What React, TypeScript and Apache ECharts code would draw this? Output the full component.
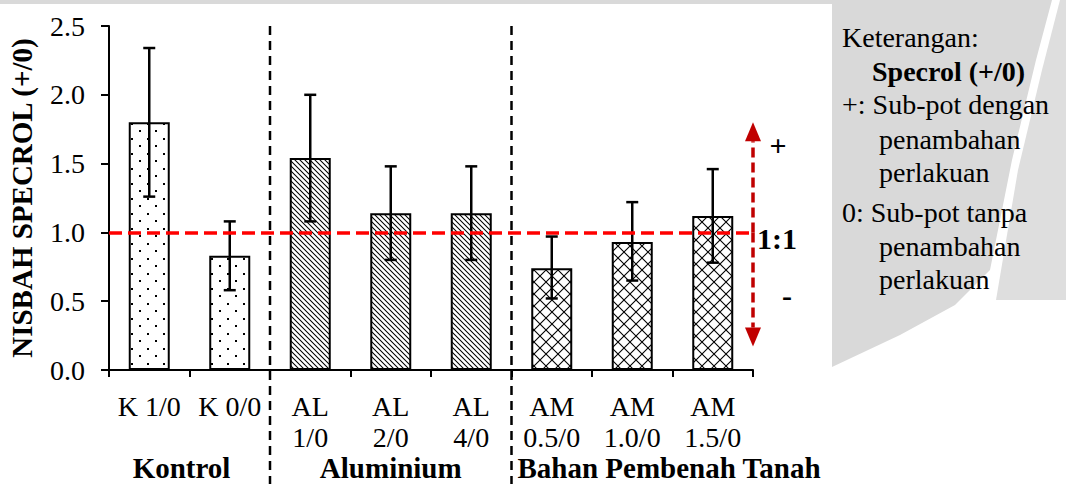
import React, { useEffect, useRef } from "react";
import * as echarts from "echarts";

// ---------- data ----------
const categories = ["K 1/0", "K 0/0", "AL\n1/0", "AL\n2/0", "AL\n4/0", "AM\n0.5/0", "AM\n1.0/0", "AM\n1.5/0"];
const ratioMean = [1.8, 0.83, 1.54, 1.14, 1.14, 0.74, 0.93, 1.12];
const ratioLow = [1.26, 0.58, 1.08, 0.8, 0.8, 0.52, 0.65, 0.78];
const ratioHigh = [2.34, 1.08, 2.0, 1.48, 1.48, 0.97, 1.22, 1.46];
const barPattern = ["dots", "dots", "hatch", "hatch", "hatch", "cross", "cross", "cross"];
const groupNames = ["Kontrol", "Aluminium", "Bahan Pembenah Tanah"];
const groupFirst = [0, 2, 5];
const groupLast = [1, 4, 7];
const yMin = 0;
const yMax = 2.5;
const yStep = 0.5;
const neutralRatio = 1;
const arrowUpTo = 1.8;
const arrowDownTo = 0.17;
const legendTitle = "Keterangan:";
const legendHeader = "Specrol (+/0)";
const legendPlus = ["+: Sub-pot dengan", "penambahan", "perlakuan"];
const legendZero = ["0: Sub-pot tanpa", "penambahan", "perlakuan"];

const FONT = "'Liberation Serif', 'Times New Roman', serif";

function makePattern(kind: string) {
  const c = document.createElement("canvas");
  let w = 12, h = 12;
  if (kind === "dots") { w = 16; h = 15; }
  else if (kind === "hatch") { w = 5; h = 5; }
  c.width = w; c.height = h;
  const ctx = c.getContext("2d")!;
  ctx.fillStyle = "#ffffff";
  ctx.fillRect(0, 0, w, h);
  ctx.fillStyle = "#000000";
  ctx.strokeStyle = "#000000";
  if (kind === "dots") {
    ctx.fillRect(3, 3, 2, 2);
    ctx.fillRect(11, 10, 2, 2);
  } else if (kind === "hatch") {
    ctx.lineWidth = 1.05;
    ctx.beginPath();
    for (let k = -1; k <= 1; k++) {
      ctx.moveTo(k * w - 1, -1);
      ctx.lineTo(k * w + w + 1, h + 1);
    }
    ctx.stroke();
  } else {
    ctx.lineWidth = 1.1;
    ctx.beginPath();
    ctx.moveTo(-1, -1); ctx.lineTo(w + 1, h + 1);
    ctx.moveTo(w + 1, -1); ctx.lineTo(-1, h + 1);
    ctx.stroke();
  }
  return { image: c, repeat: "repeat" };
}

export default function App() {
  const ref = useRef<HTMLDivElement>(null);
  useEffect(() => {
    if (!ref.current) return;
    const chart = echarts.init(ref.current, null, { renderer: "svg", width: 1066, height: 484 });
    const patterns: Record<string, any> = {
      dots: makePattern("dots"),
      hatch: makePattern("hatch"),
      cross: makePattern("cross"),
    };
    const option: any = {
      animation: false,
      backgroundColor: "#ffffff",
      textStyle: { fontFamily: FONT, color: "#000" },
      grid: { left: 109, right: 313, top: 26, bottom: 114, containLabel: false, outerBoundsMode: "none" },
      xAxis: {
        type: "category",
        data: categories,
        axisLine: { show: true, lineStyle: { color: "#000", width: 2 } },
        axisTick: { show: true, interval: 0, length: 7, lineStyle: { color: "#000", width: 2 } },
        axisLabel: { interval: 0, fontSize: 28, lineHeight: 31, margin: 21, color: "#000", fontFamily: FONT },
        splitLine: { show: false },
      },
      yAxis: {
        type: "value",
        min: yMin,
        max: yMax,
        interval: yStep,
        name: "NISBAH SPECROL (+/0)",
        nameLocation: "middle",
        nameGap: 73,
        nameTextStyle: { fontSize: 29, fontWeight: "bold", color: "#000", fontFamily: FONT },
        axisLine: { show: true, lineStyle: { color: "#000", width: 2 } },
        axisTick: { show: true, length: 8, lineStyle: { color: "#000", width: 2 } },
        axisLabel: { fontSize: 28, margin: 24, color: "#000", fontFamily: FONT, formatter: (v: number) => v.toFixed(1) },
        splitLine: { show: false },
      },
      series: [
        {
          type: "bar",
          barWidth: 41,
          z: 2,
          data: ratioMean.map((v, i) => ({
            value: v,
            itemStyle: { color: patterns[barPattern[i]], borderColor: "#000", borderWidth: 2 },
          })),
          markLine: {
            silent: true,
            symbol: "none",
            z: 6,
            label: { show: false },
            lineStyle: { color: "#ff0000", width: 3.5, type: [13, 6] },
            data: [{ yAxis: neutralRatio }],
          },
        },
        {
          type: "custom",
          z: 4,
          data: categories.map((_, i) => [i, ratioLow[i], ratioHigh[i]]),
          encode: { x: 0, y: [1, 2] },
          renderItem: (params: any, api: any) => {
            const x = api.value(0);
            const lo = api.coord([x, api.value(1)]);
            const hi = api.coord([x, api.value(2)]);
            const hw = 6;
            const style = { stroke: "#000", lineWidth: 2.5 };
            return {
              type: "group",
              children: [
                { type: "line", shape: { x1: lo[0], y1: lo[1], x2: hi[0], y2: hi[1] }, style },
                { type: "line", shape: { x1: hi[0] - hw, y1: hi[1], x2: hi[0] + hw, y2: hi[1] }, style },
                { type: "line", shape: { x1: lo[0] - hw, y1: lo[1], x2: lo[0] + hw, y2: lo[1] }, style },
              ],
            };
          },
        },
      ],
    };
    chart.setOption(option);

    const cx = (i: number) => chart.convertToPixel({ xAxisIndex: 0 }, i) as number;
    const cy = (v: number) => chart.convertToPixel({ yAxisIndex: 0 }, v) as number;
    const step = cx(1) - cx(0);
    const right = cx(categories.length - 1) + step / 2;
    const top = cy(yMax);
    const y1 = cy(neutralRatio);
    const sepX = [1, 2].map((g) => (cx(groupLast[g - 1]) + cx(groupFirst[g])) / 2);
    const arrowColor = "#c00000";
    const arrowTopY = cy(arrowUpTo);
    const arrowBotY = cy(arrowDownTo);
    const headLen = 19;
    const headHalf = 8;

    const graphics: any[] = [
      { type: "rect", z: -10, shape: { x: 0, y: 0, width: 833, height: 4 }, style: { fill: "#d9d9d9" } },
      {
        type: "polygon", z: -10,
        shape: { points: [[832, 0], [1052, 0], [1036, 60], [1012, 160], [990, 270], [955, 305], [900, 335], [832, 367]] },
        style: { fill: "#d9d9d9" },
      },
      {
        type: "polygon", z: -10,
        shape: { points: [[1060, 0], [1066, 0], [1066, 300], [996, 300], [1018, 170], [1042, 70]] },
        style: { fill: "#dedede" },
      },
    ];
    sepX.forEach((x) => {
      graphics.push({
        type: "line", z: 1,
        shape: { x1: x, y1: top, x2: x, y2: 484 },
        style: { stroke: "#000", lineWidth: 2.5, lineDash: [9, 6] },
      });
    });
    // arrows
    graphics.push(
      { type: "line", z: 7, shape: { x1: right, y1: y1, x2: right, y2: arrowTopY + headLen }, style: { stroke: arrowColor, lineWidth: 3.5, lineDash: [10, 5] } },
      { type: "polygon", z: 7, shape: { points: [[right, arrowTopY], [right - headHalf, arrowTopY + headLen], [right + headHalf, arrowTopY + headLen]] }, style: { fill: arrowColor } },
      { type: "line", z: 7, shape: { x1: right, y1: y1, x2: right, y2: arrowBotY - headLen }, style: { stroke: arrowColor, lineWidth: 3.5, lineDash: [10, 5] } },
      { type: "polygon", z: 7, shape: { points: [[right, arrowBotY], [right - headHalf, arrowBotY - headLen], [right + headHalf, arrowBotY - headLen]] }, style: { fill: arrowColor } },
      { type: "text", z: 8, x: right + 25, y: cy(1.63), style: { text: "+", font: `bold 30px ${FONT}`, fill: "#000", textAlign: "center", textVerticalAlign: "middle" } },
      { type: "text", z: 8, x: right + 4, y: y1 + 6, style: { text: "1:1", font: `bold 30px ${FONT}`, fill: "#000", textAlign: "left", textVerticalAlign: "middle" } },
      { type: "text", z: 8, x: right + 34, y: cy(0.54), style: { text: "-", font: `bold 30px ${FONT}`, fill: "#000", textAlign: "center", textVerticalAlign: "middle" } }
    );
    // group labels
    const groupY = 468;
    const gFont = `bold 29px ${FONT}`;
    graphics.push(
      { type: "text", z: 8, x: (cx(groupFirst[0]) + cx(groupLast[0])) / 2 - 8, y: groupY, style: { text: groupNames[0], font: gFont, fill: "#000", textAlign: "center", textVerticalAlign: "middle" } },
      { type: "text", z: 8, x: (cx(groupFirst[1]) + cx(groupLast[1])) / 2, y: groupY, style: { text: groupNames[1], font: gFont, fill: "#000", textAlign: "center", textVerticalAlign: "middle" } },
      { type: "text", z: 8, x: sepX[1] + 6, y: groupY, style: { text: groupNames[2], font: gFont, fill: "#000", textAlign: "left", textVerticalAlign: "middle" } }
    );
    // legend
    const lx = 842;
    const ind = 879;
    const legendItems: [string, number, number, boolean][] = [
      [legendTitle, lx, 37, false],
      [legendHeader, 872, 71, true],
      [legendPlus[0], lx, 104, false],
      [legendPlus[1], ind, 139, false],
      [legendPlus[2], ind, 172, false],
      [legendZero[0], lx, 212, false],
      [legendZero[1], ind, 246, false],
      [legendZero[2], ind, 279, false],
    ];
    legendItems.forEach(([t, x, y, b]) => {
      graphics.push({
        type: "text", z: 8, x, y,
        style: { text: t, font: `${b ? "bold " : ""}28px ${FONT}`, fill: "#000", textAlign: "left", textVerticalAlign: "middle" },
      });
    });
    chart.setOption({ graphic: { elements: graphics } });

    return () => chart.dispose();
  }, []);
  return <div ref={ref} style={{ position: "fixed", left: 0, top: 0, width: 1066, height: 484 }} />;
}
